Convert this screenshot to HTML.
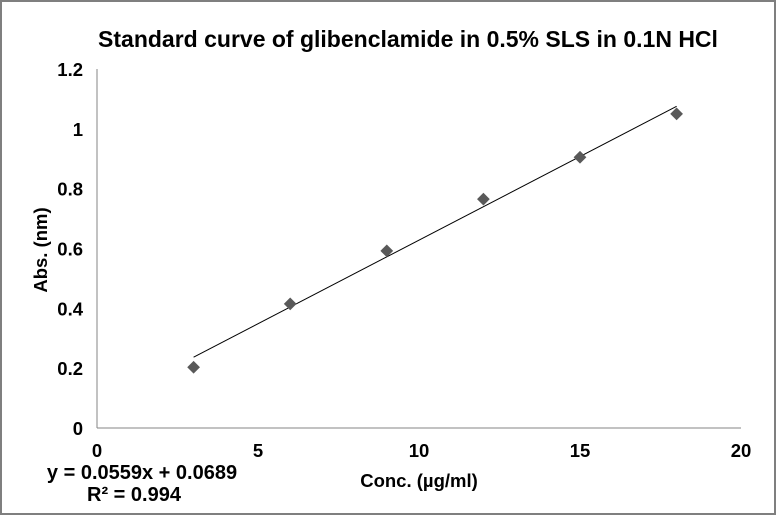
<!DOCTYPE html>
<html><head><meta charset="utf-8"><style>
body{margin:0;background:#fff;}
svg{display:block;font-family:"Liberation Sans",Arial,sans-serif;font-weight:bold;}
</style></head><body>
<svg id="c" width="777" height="516">
<rect x="1" y="1" width="774" height="513" fill="#fff" stroke="#7f7f7f" stroke-width="2"/>
<text x="408" y="47" text-anchor="middle" font-size="23" fill="#000">Standard curve of glibenclamide in 0.5% SLS in 0.1N HCl</text>
<line x1="97" y1="69" x2="97" y2="428" stroke="#868686" stroke-width="1"/>
<line x1="97" y1="428" x2="741" y2="428" stroke="#868686" stroke-width="1"/>
<g id="yt"></g><g id="xt"></g>
<line id="trend" stroke="#000" stroke-width="1"/>
<g id="pts"></g>
<text x="47" y="250" text-anchor="middle" font-size="18.5" transform="rotate(-90 47 250)">Abs. (nm)</text>
<text x="419" y="487" text-anchor="middle" font-size="18.5">Conc. (µg/ml)</text>
<text x="142" y="479" text-anchor="middle" font-size="20">y = 0.0559x + 0.0689</text>
<text x="134" y="501" text-anchor="middle" font-size="20">R² = 0.994</text>
</svg>
<script>
const xs=[3,6,9,12,15,18];
const ys=[0.203,0.415,0.592,0.765,0.905,1.05];
const yTicks=[0,0.2,0.4,0.6,0.8,1,1.2];
const xTicks=[0,5,10,15,20];
const slope=0.0559, intercept=0.0689;
const NS="http://www.w3.org/2000/svg";
const X=v=>97+v*32.2, Y=v=>428-v*299.2;
const yt=document.getElementById('yt'),xt=document.getElementById('xt'),pts=document.getElementById('pts');
yTicks.forEach(v=>{const t=document.createElementNS(NS,'text');


t.setAttribute('x',83);t.setAttribute('y',Y(v)+7);t.setAttribute('text-anchor','end');t.setAttribute('font-size','18.5');t.textContent=String(v);yt.appendChild(t);});
xTicks.forEach(v=>{const t=document.createElementNS(NS,'text');


t.setAttribute('x',X(v));t.setAttribute('y',457);t.setAttribute('text-anchor','middle');t.setAttribute('font-size','18.5');t.textContent=String(v);xt.appendChild(t);});
const tr=document.getElementById('trend');
const x0=Math.min(...xs),x1=Math.max(...xs);
tr.setAttribute('x1',X(x0));tr.setAttribute('y1',Y(slope*x0+intercept));
tr.setAttribute('x2',X(x1));tr.setAttribute('y2',Y(slope*x1+intercept));
xs.forEach((x,i)=>{const p=document.createElementNS(NS,'rect');


const cx=X(x),cy=Y(ys[i]);
p.setAttribute('x',cx-4.5);p.setAttribute('y',cy-4.5);p.setAttribute('width',9);p.setAttribute('height',9);
p.setAttribute('fill','#595959');p.setAttribute('transform',`rotate(45 ${cx} ${cy})`);pts.appendChild(p);});
</script>
</body></html>
